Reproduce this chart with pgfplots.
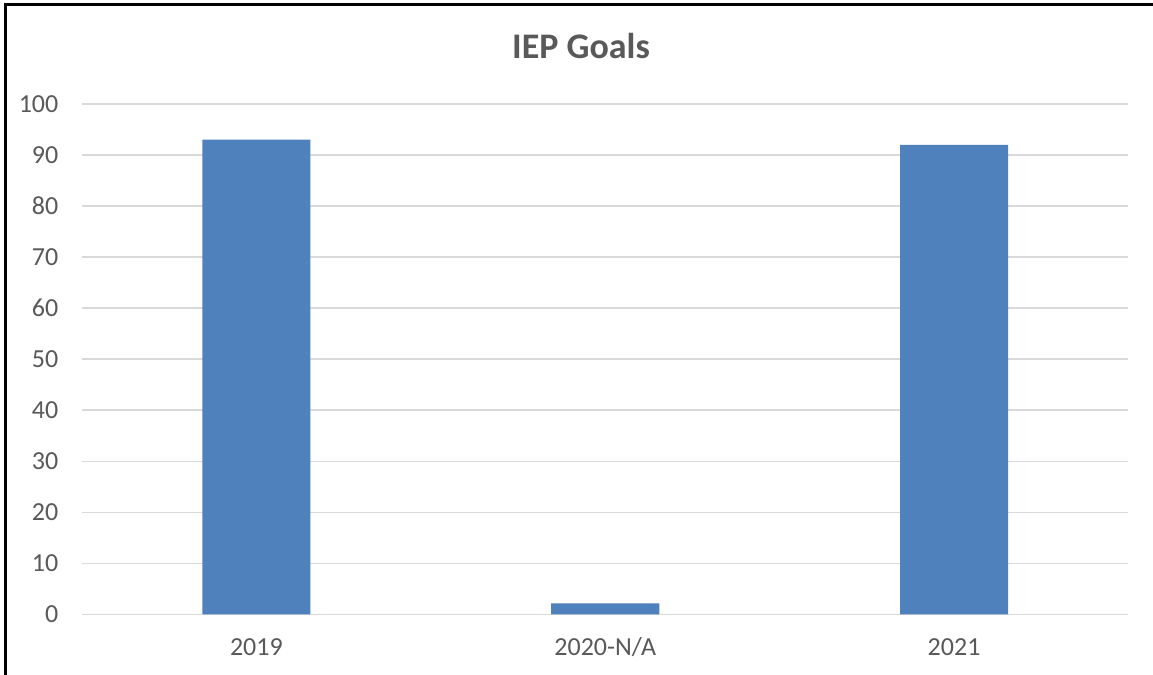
\documentclass[border=0pt]{standalone}
\usepackage{pgfplots}
\pgfplotsset{compat=1.18}
\usepackage{fontspec}
\setmainfont{Carlito}
\definecolor{barblue}{HTML}{4F81BD}
\definecolor{txtgrey}{HTML}{595959}
\definecolor{gridgrey}{HTML}{D9D9D9}

\begin{document}
\begin{tikzpicture}[x=1bp,y=1bp]
  \path[use as bounding box] (0,0) rectangle (1153,675);
  \fill[white] (0,0) rectangle (1153,675);

  \begin{axis}[
      at={(82bp,60.5bp)},
      anchor=south west,
      scale only axis,
      width=1046.5bp,
      height=510.5bp,
      ybar,
      bar width=0.31,
      xmin=-0.5, xmax=2.5,
      ymin=0, ymax=100,
      xtick=data,
      xticklabels={2019,2020-N/A,2021},
      ytick={0,10,...,100},
      major tick length=0pt,
      axis line style={draw=none},
      ymajorgrids,
      grid style={gridgrey, line width=1.6bp},
      /pgf/number format/assume math mode=true,
      tick label style={font=\fontsize{26bp}{30bp}\selectfont, text=txtgrey, inner sep=0pt},
      yticklabel style={anchor=base east, xshift=-23.5bp, yshift=-8.5bp},
      xticklabel style={anchor=base, yshift=-41bp},
      clip=false,
    ]
    \addplot[fill=barblue, draw=none] coordinates {
      (0, 93)
      (1, 2.2)
      (2, 92)
    };
  \end{axis}

  \node[anchor=base, inner sep=0pt, text=txtgrey,
        font=\fontsize{36bp}{42bp}\selectfont\bfseries] at (581,616) {IEP Goals};

  \draw[black, line width=3.8bp] (5.5,-5) -- (5.5,670.5) -- (1160,670.5);
\end{tikzpicture}
\end{document}
